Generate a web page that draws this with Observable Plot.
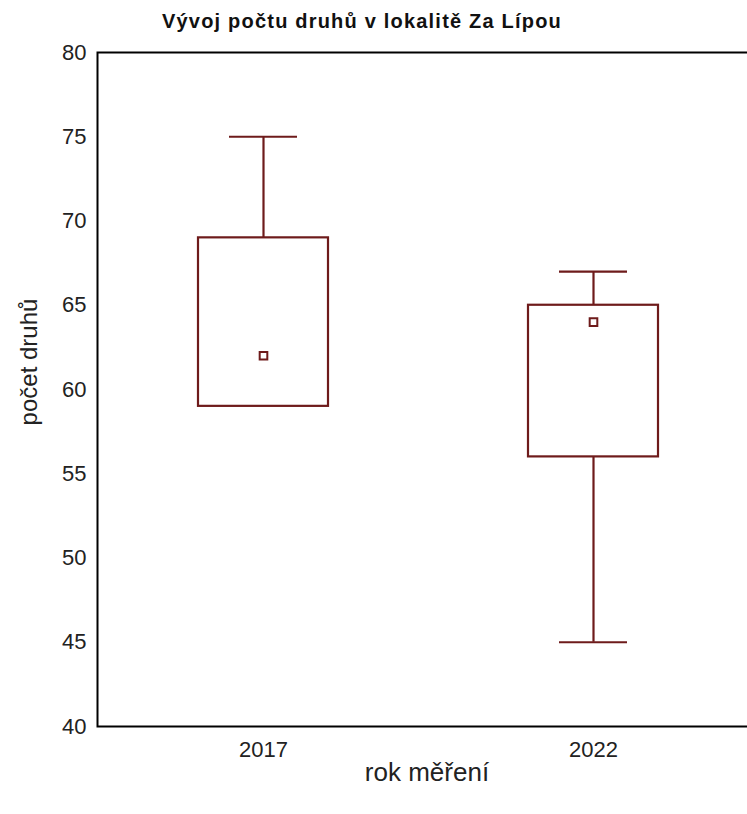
<!DOCTYPE html>
<html>
<head>
<meta charset="utf-8">
<script src="https://cdn.jsdelivr.net/npm/d3@7"></script>
<script src="https://cdn.jsdelivr.net/npm/@observablehq/plot@0.6"></script>
<style>
  html, body { margin: 0; padding: 0; background: #fff; overflow: hidden; }
  #wrap { position: relative; width: 747px; height: 814px; overflow: hidden; font-family: "Liberation Sans", Arial, sans-serif; }
  #title { position: absolute; left: 0; width: 724px; top: 10px; text-align: center; font-weight: bold; font-size: 20px; letter-spacing: 1.2px; color: #111; }
  #xlabel { position: absolute; left: 0; width: 854px; top: 757px; text-align: center; font-size: 26px; color: #222; }
  #ylabel { position: absolute; left: 29px; top: 362px; transform: translate(-50%, -50%) rotate(-90deg); white-space: nowrap; font-size: 24px; color: #222; }
  #chart { position: absolute; left: 0; top: 0; width: 760px; }
  #chart svg { max-width: none !important; }
</style>
</head>
<body>
<div id="wrap">
  <div id="chart"></div>
  <div id="title">Vývoj počtu druhů v lokalitě Za Lípou</div>
  <div id="xlabel">rok měření</div>
  <div id="ylabel">počet druhů</div>
</div>
<script>
const years = ["2017", "2022"];
const minVals = [59, 45];
const q1Vals = [59, 56];
const medianVals = [62, 64];
const q3Vals = [69, 65];
const maxVals = [75, 67];
const yTicks = [40, 45, 50, 55, 60, 65, 70, 75, 80];

const data = years.map((y, i) => ({
  year: y, min: minVals[i], q1: q1Vals[i], median: medianVals[i], q3: q3Vals[i], max: maxVals[i]
}));

const col = "#6e1b1b";
const plot = Plot.plot({
  width: 760,
  height: 814,
  marginLeft: 97,
  marginRight: 2,
  marginTop: 52,
  marginBottom: 88,
  style: { fontFamily: "'Liberation Sans', Arial, sans-serif", fontSize: "22px", color: "#222", background: "white", maxWidth: "none" },
  x: { type: "band", domain: years, padding: 0, label: null },
  y: { domain: [40, 80], ticks: yTicks, label: null },
  marks: [
    Plot.axisY({ ticks: yTicks, tickSize: 0, tickPadding: 11, label: null }),
    Plot.axisX({ tickSize: 0, tickPadding: 15, label: null }),
    Plot.ruleX(data, { x: "year", y1: "q3", y2: "max", stroke: col, strokeWidth: 2.2 }),
    Plot.ruleX(data, { x: "year", y1: "min", y2: "q1", stroke: col, strokeWidth: 2.2 }),
    Plot.tickY(data, { x: "year", y: "max", stroke: col, strokeWidth: 2.2, insetLeft: 131, insetRight: 131 }),
    Plot.tickY(data, { x: "year", y: "min", stroke: col, strokeWidth: 2.2, insetLeft: 131, insetRight: 131, filter: d => d.min < d.q1 }),
    Plot.rect(data, { x: "year", y1: "q1", y2: "q3", fill: "none", stroke: col, strokeWidth: 2.2, insetLeft: 100, insetRight: 100 }),
    Plot.dot(data, { x: "year", y: "median", symbol: "square", r: 4.3, fill: "white", stroke: col, strokeWidth: 2 }),
    Plot.frame({ stroke: "black", strokeWidth: 2 })
  ]
});
document.getElementById("chart").appendChild(plot);
</script>
</body>
</html>
